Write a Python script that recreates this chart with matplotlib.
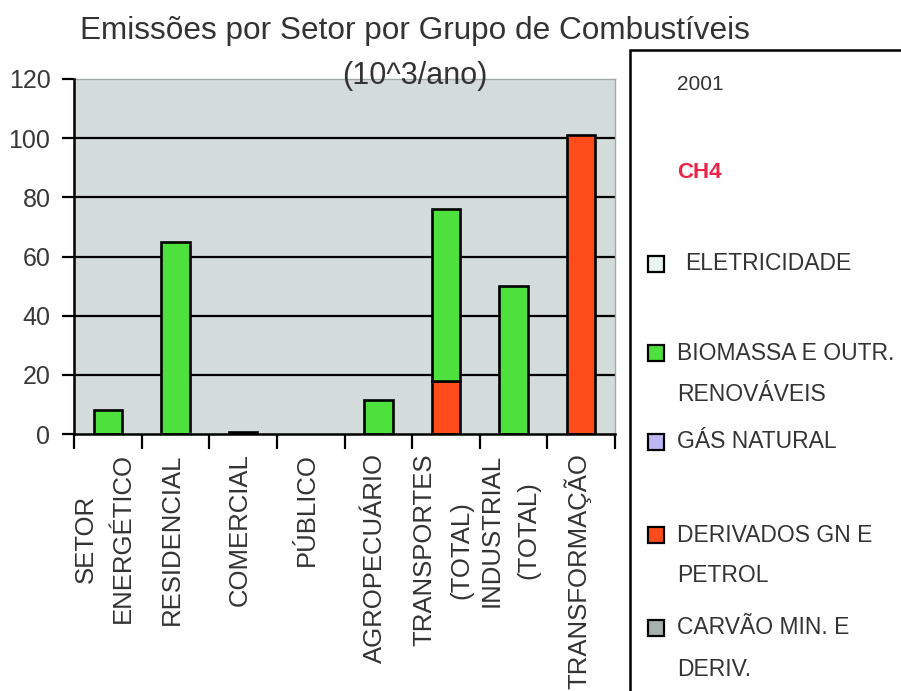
import matplotlib
matplotlib.use('Agg')
import matplotlib.pyplot as plt
from matplotlib.patches import Rectangle
import numpy as np

plt.rcParams['font.family'] = ['Liberation Sans', 'DejaVu Sans']

# ---- data ----
categories = ['SETOR\nENERGÉTICO', 'RESIDENCIAL', 'COMERCIAL', 'PÚBLICO',
              'AGROPECUÁRIO', 'TRANSPORTES\n(TOTAL)', 'INDUSTRIAL\n(TOTAL)',
              'TRANSFORMAÇÃO']
# stacked bottom-up
carvao = [0, 0, 0, 0, 0, 0, 0, 0]
derivados = [0, 0, 0, 0, 0, 18, 0, 101]
gas_natural = [0, 0, 0, 0, 0, 0, 0, 0]
biomassa = [8, 65, 0.7, 0, 11.5, 58, 50, 0]
eletricidade = [0, 0, 0, 0, 0, 0, 0, 0]

series = [carvao, derivados, gas_natural, biomassa, eletricidade]
series_colors = ['#a6b2ae', '#ff4c1a', '#bdb8f5', '#4ee03c', '#e6f5f2']

legend_labels = ['ELETRICIDADE', 'BIOMASSA E OUTR.\nRENOVÁVEIS', 'GÁS NATURAL',
                 'DERIVADOS GN E\nPETROL', 'CARVÃO MIN. E\nDERIV.']
legend_colors = ['#e6f5f2', '#4ee03c', '#bdb8f5', '#ff4c1a', '#a6b2ae']
year_label = '2001'
gas_label = 'CH4'
yticks = [0, 20, 40, 60, 80, 100, 120]

title = 'Emissões por Setor por Grupo de Combustíveis'
subtitle = '(10^3/ano)'

W, H = 901, 691
fig = plt.figure(figsize=(W / 100, H / 100), dpi=100)
fig.patch.set_facecolor('white')

def fx(px):
    return px / W

def fy(py):
    return 1 - py / H

ax = fig.add_axes([fx(74), fy(434), fx(615) - fx(74), fy(79) - fy(434)])
ax.set_facecolor('#d4dbdb')

x = np.arange(len(categories))
bottom = np.zeros(len(categories))
for vals, col in zip(series, series_colors):
    v = np.array(vals, dtype=float)
    mask = v > 0
    ax.bar(x[mask], v[mask], width=0.42, bottom=bottom[mask], color=col,
           edgecolor='black', linewidth=1.9, zorder=3)
    bottom += v

ax.set_xlim(-0.5, len(categories) - 0.5)
ax.set_ylim(0, 120)
ax.set_yticks(yticks)
ax.set_yticklabels([str(t) for t in yticks], fontsize=18, color='#383838')
for t in yticks[1:-1]:
    ax.axhline(t, color='black', linewidth=1.6, zorder=2)

ax.set_xticks(x - 0.05)
ax.set_xticklabels(categories, rotation=90, fontsize=18.5, color='#333333',
                   ha='center', va='top', linespacing=1.68)
ax.tick_params(axis='x', which='major', length=0, pad=14)
ax.set_xticks(np.arange(-0.5, len(categories), 1.0), minor=True)
ax.tick_params(axis='x', which='minor', length=11, width=1.6, color='black',
               direction='out')
ax.tick_params(axis='y', length=9, width=1.6, color='black', pad=8,
               direction='out')

for s in ['left', 'bottom']:
    ax.spines[s].set_color('black')
    ax.spines[s].set_linewidth(1.8)
    ax.spines[s].set_zorder(4)
for s in ['top', 'right']:
    ax.spines[s].set_color('#a0a8a8')
    ax.spines[s].set_linewidth(1.0)

fig.text(fx(415), fy(31), title, fontsize=22.7, color='#333333',
         ha='center', va='center')
fig.text(fx(415), fy(76), subtitle, fontsize=22, color='#333333',
         ha='center', va='center', zorder=10)

# ---- legend box ----
fig.add_artist(Rectangle((fx(630), fy(700)), fx(300), fy(50) - fy(700),
                         transform=fig.transFigure, facecolor='white',
                         edgecolor='black', linewidth=1.8))

txt_x = fx(677)
fig.text(txt_x, fy(84), year_label, fontsize=15, color='#333333',
         ha='left', va='center')
fig.text(txt_x, fy(173), gas_label, fontsize=16, color='#ee2244',
         ha='left', va='center', fontweight='bold')

entry_y = [264, 353, 442, 535, 628]
line_gap = 41
sq = 16
for lab, col, yy in zip(legend_labels, legend_colors, entry_y):
    fig.add_artist(Rectangle((fx(648), fy(yy + sq / 2)), fx(sq), fy(0) - fy(sq),
                             transform=fig.transFigure, facecolor=col,
                             edgecolor='black', linewidth=1.6))
    lines = lab.split('\n')
    for i, ln in enumerate(lines):
        xx = txt_x + (fx(8) if lab == 'ELETRICIDADE' else 0)
        fig.text(xx, fy(yy + i * line_gap), ln, fontsize=16.5, color='#333333',
                 ha='left', va='center')

fig.savefig('out.png', dpi=100, facecolor='white')
